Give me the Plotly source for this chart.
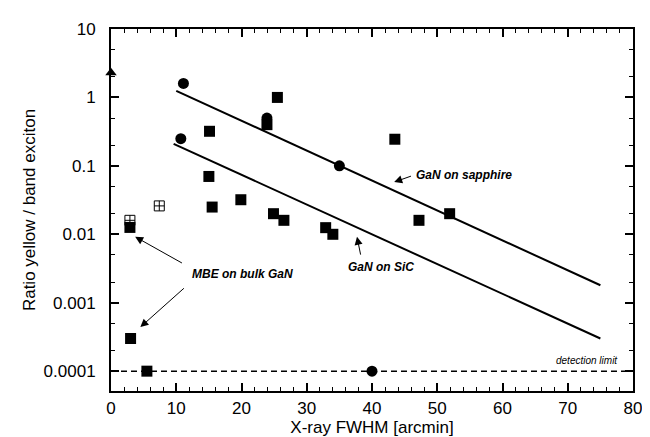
import numpy as np
import plotly.graph_objects as go

# filled squares
sq_x = [3.0, 5.5, 2.9, 15.1, 15.0, 15.5, 19.9, 24.9, 26.5, 25.5, 23.9, 32.9, 34.0, 43.5, 47.2, 51.9]
sq_y = [0.0003, 0.0001, 0.0126, 0.32, 0.070, 0.025, 0.032, 0.020, 0.016, 1.0, 0.40, 0.0125, 0.010, 0.245, 0.016, 0.020]

# filled circles
circ_x = [11.1, 10.7, 23.9, 35.0, 40.0]
circ_y = [1.6, 0.25, 0.5, 0.1, 0.0001]

# crossed open squares
cross_x = [7.4, 2.9]
cross_y = [0.026, 0.016]

# triangle
tri_x = [0]
tri_y = [2.3]

# fit lines
sapphire_x = [10, 75]
sapphire_y = [1.25, 0.0018]
sic_x = [9.6, 75]
sic_y = [0.21, 0.0003]

# detection limit
limit_x = [0, 80]
limit_y = [0.0001, 0.0001]

y_tickvals = [10, 1, 0.1, 0.01, 0.001, 0.0001]
y_ticktext = ["10", "1", "0.1", "0.01", "0.001", "0.0001"]
x_tickvals = [0, 10, 20, 30, 40, 50, 60, 70, 80]

FONT = "Liberation Sans, Arial, sans-serif"

fig = go.Figure()

fig.add_trace(go.Scatter(x=limit_x, y=limit_y, mode="lines",
                         line=dict(color="black", width=1.5, dash="6px,4px")))
fig.add_trace(go.Scatter(x=sapphire_x, y=sapphire_y, mode="lines",
                         line=dict(color="black", width=2)))
fig.add_trace(go.Scatter(x=sic_x, y=sic_y, mode="lines",
                         line=dict(color="black", width=2)))
fig.add_trace(go.Scatter(x=cross_x, y=cross_y, mode="markers",
                         marker=dict(symbol="square-cross-open", size=10, color="black",
                                     line=dict(width=1))))
fig.add_trace(go.Scatter(x=sq_x, y=sq_y, mode="markers",
                         marker=dict(symbol="square", size=11, color="black")))
fig.add_trace(go.Scatter(x=circ_x, y=circ_y, mode="markers",
                         marker=dict(symbol="circle", size=11, color="black")))
fig.add_trace(go.Scatter(x=tri_x, y=tri_y, mode="markers",
                         marker=dict(symbol="triangle-up", size=10, color="black")))
fig.update_traces(cliponaxis=False, hoverinfo="skip")

ann_font = dict(family=FONT, size=12, color="black")


def arrow(x, y, ax, ay):
    fig.add_annotation(x=x, y=np.log10(y), ax=ax, ay=np.log10(ay),
                       xref="x", yref="y", axref="x", ayref="y",
                       text="", showarrow=True, arrowhead=2, arrowsize=1.6,
                       arrowwidth=1, arrowcolor="black")


fig.add_annotation(x=46.4, y=np.log10(0.074), xref="x", yref="y",
                   text="<b><i>GaN on sapphire</i></b>", showarrow=False,
                   xanchor="left", font=ann_font)
arrow(43.4, 0.058, 46.2, 0.072)

fig.add_annotation(x=41.4, y=np.log10(0.0033), xref="x", yref="y",
                   text="<b><i>GaN on SiC</i></b>", showarrow=False, font=ann_font)
arrow(37.7, 0.0092, 38.3, 0.0048)

fig.add_annotation(x=20.1, y=np.log10(0.0026), xref="x", yref="y",
                   text="<b><i>MBE on bulk GaN</i></b>", showarrow=False, font=ann_font)
arrow(3.7, 0.0092, 11.1, 0.0037)
arrow(4.5, 0.00044, 11.4, 0.0017)

fig.add_annotation(x=78.0, y=np.log10(0.000145), xref="x", yref="y",
                   text="<i>detection limit</i>", showarrow=False, xanchor="right",
                   font=dict(family=FONT, size=10, color="black"))

axis_common = dict(
    showline=True, linecolor="black", linewidth=2, mirror="ticks",
    ticks="inside", tickcolor="black", tickwidth=1.5, ticklen=8,
    showgrid=False, zeroline=False,
    tickfont=dict(family=FONT, size=17, color="black"),
)

fig.update_xaxes(
    range=[0, 80], tickvals=x_tickvals, ticklabelstandoff=1,
    minor=dict(ticks="inside", dtick=2, ticklen=4, tickcolor="black", tickwidth=1),
    title=dict(text="X-ray FWHM [arcmin]", font=dict(family=FONT, size=17, color="black"),
               standoff=0),
    **axis_common,
)
fig.update_yaxes(
    type="log", range=[-4.29, 1], tickvals=y_tickvals, ticktext=y_ticktext,
    ticklabelstandoff=10,
    minor=dict(ticks="inside", ticklen=4, tickcolor="black", tickwidth=1),
    title=dict(text="Ratio yellow / band exciton", font=dict(family=FONT, size=17, color="black"),
               standoff=4),
    **axis_common,
)

fig.update_layout(
    width=650, height=437,
    margin=dict(l=103, r=25, t=15, b=54),
    paper_bgcolor="white", plot_bgcolor="white",
    showlegend=False,
)

fig.write_html("out.html")
